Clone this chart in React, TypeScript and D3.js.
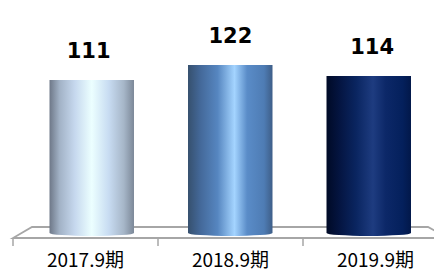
import React from 'react';
import * as d3 from 'd3';

const categories = ['2017.9期', '2018.9期', '2019.9期'];
const values = [111, 122, 114];
const valueLabels = ['111', '122', '114'];

// gradient stops for each cylinder: [offset, colour]
const barStops: [number, string][][] = [
  [[0, '#6e7888'], [0.12, '#a2b2c6'], [0.3, '#c6d8ee'], [0.5, '#ecffff'], [0.7, '#c8dcf2'], [0.88, '#a6b6c8'], [1, '#7c8898']],
  [[0, '#36506e'], [0.15, '#44699a'], [0.35, '#5686c0'], [0.55, '#a4d4ff'], [0.7, '#5a8cc8'], [0.9, '#4e7cb4'], [1, '#3e5e88']],
  [[0, '#000a26'], [0.15, '#041440'], [0.35, '#0a2560'], [0.55, '#1e3c80'], [0.7, '#0c2868'], [0.9, '#04205c'], [1, '#02184a']],
];

const W = 434;
const H = 270;

export default function App() {
  const floorBack = 227;
  const floorFront = 238;
  const y0 = 233;

  const xFront = d3.scaleBand<string>().domain(categories).range([13, 448]);
  const xBack = d3.scaleBand<string>().domain(categories).range([32, 428]);
  const xMid = d3.scaleBand<string>().domain(categories).range([22.5, 438]).paddingInner(0.39).paddingOuter(0.195);
  const xLabel = d3.scaleBand<string>().domain(categories).range([17.75, 443]);

  const y = d3.scaleLinear().domain([0, 130]).range([y0, y0 - 130 * 1.378]);

  const floorPath = d3.path();
  floorPath.moveTo(xBack(categories[0])!, floorBack);
  floorPath.lineTo(xBack(categories[2])! + xBack.bandwidth(), floorBack);
  floorPath.lineTo(xFront(categories[2])! + xFront.bandwidth(), floorFront);
  floorPath.lineTo(xFront(categories[0])!, floorFront);
  floorPath.closePath();

  const ticks = [...categories.map((c) => xFront(c)!), xFront(categories[2])! + xFront.bandwidth()];

  return (
    <svg width={W} height={H} style={{ position: 'absolute', left: 0, top: 0 }}>
      <defs>
        {barStops.map((stops, i) => (
          <linearGradient key={i} id={'bar' + i} x1="0" x2="1" y1="0" y2="0">
            {stops.map(([o, c], j) => (
              <stop key={j} offset={o} stopColor={c} />
            ))}
          </linearGradient>
        ))}
      </defs>
      <path d={floorPath.toString()} fill="#fff" stroke="#a6a6a6" strokeWidth={1.8} />
      {ticks.map((t, i) => (
        <line key={i} x1={t} x2={t} y1={floorFront} y2={floorFront + 8} stroke="#a6a6a6" strokeWidth={1.5} />
      ))}
      {categories.map((c, i) => {
        const x = xMid(c)!;
        const w = xMid.bandwidth();
        const top = y(values[i]);
        const ry = 3;
        const d = `M${x},${top} L${x + w},${top} L${x + w},${y0} A${w / 2},${ry} 0 0 1 ${x},${y0} Z`;
        return <path key={c} d={d} fill={`url(#bar${i})`} />;
      })}
      {categories.map((c, i) => (
        <text
          key={c}
          x={xLabel(c)! + xLabel.bandwidth() / 2}
          y={y(values[i]) - 22}
          textAnchor="middle"
          fontFamily="'DejaVu Sans', Verdana, sans-serif"
          fontWeight="bold"
          fontSize={21}
          fill="#000"
        >
          {valueLabels[i]}
        </text>
      ))}
      {categories.map((c) => (
        <text
          key={c}
          x={xFront(c)! + xFront.bandwidth() / 2}
          y={267}
          textAnchor="middle"
          fontFamily="'Noto Sans CJK JP', sans-serif"
          fontSize={19}
          fill="#000"
        >
          {c}
        </text>
      ))}
    </svg>
  );
}
